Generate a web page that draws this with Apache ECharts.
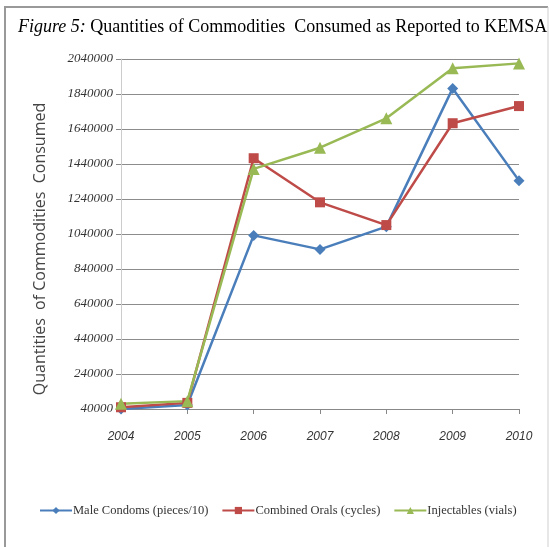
<!DOCTYPE html>
<html>
<head>
<meta charset="utf-8">
<script src="https://cdn.jsdelivr.net/npm/echarts@6/dist/echarts.min.js"></script>
<style>
  html, body { margin: 0; padding: 0; background: #ffffff; }
  #chart { width: 550px; height: 547px; }
</style>
</head>
<body>
<div id="chart"></div>
<script>
// Years on the horizontal axis
const years = ['2004', '2005', '2006', '2007', '2008', '2009', '2010'];

// Quantities consumed per commodity
const maleCondoms = [40000, 63000, 1032000, 952000, 1082000, 1872000, 1345000];
const combinedOrals = [50000, 75000, 1473000, 1221000, 1091000, 1673000, 1771000];
const injectables = [70000, 85000, 1412000, 1533000, 1701000, 1987000, 2015000];

// Value axis ticks
const yMin = 40000;
const yMax = 2040000;
const yStep = 200000;

const seriesNames = ['Male Condoms (pieces/10)', 'Combined Orals (cycles)', 'Injectables (vials)'];

const chart = echarts.init(document.getElementById('chart'), null, { renderer: 'canvas' });

const serif = '"Liberation Serif", "DejaVu Serif", serif';
const sans = '"Liberation Sans", "DejaVu Sans", sans-serif';

function lineSeries(name, data, color, symbol, size) {
  return {
    name: name,
    type: 'line',
    data: data,
    symbol: symbol,
    symbolSize: size,
    clip: false,
    lineStyle: { color: color, width: 2.5 },
    itemStyle: { color: color },
    emphasis: { disabled: true },
    animation: false
  };
}

chart.setOption({
  backgroundColor: '#ffffff',
  animation: false,
  title: {
    text: '{i|Figure 5:}{r| Quantities of Commodities  Consumed as Reported to KEMSA}',
    left: 13,
    top: 13,
    textStyle: {
      fontWeight: 'normal',
      rich: {
        i: { fontFamily: serif, fontStyle: 'italic', fontWeight: 'normal', fontSize: 18, color: '#000' },
        r: { fontFamily: serif, fontWeight: 'normal', fontSize: 18, color: '#000' }
      }
    }
  },
  legend: {
    bottom: 25,
    left: 34,
    itemGap: 13,
    itemWidth: 32,
    itemHeight: 9,
    textStyle: { fontFamily: serif, fontSize: 12.5, color: '#333', padding: [0, 0, 0, -4] },
    data: seriesNames
  },
  grid: {
    left: 121,
    right: 31,
    top: 59,
    bottom: 138,
    containLabel: false
  },
  xAxis: {
    type: 'category',
    data: years,
    boundaryGap: false,
    axisLine: { lineStyle: { color: '#888888', width: 1 } },
    axisTick: { show: true, inside: false, length: 5, lineStyle: { color: '#888888' } },
    axisLabel: {
      fontFamily: sans,
      fontStyle: 'italic',
      fontSize: 12,
      color: '#333',
      margin: 22
    },
    splitLine: { show: false }
  },
  yAxis: {
    type: 'value',
    min: yMin,
    max: yMax,
    interval: yStep,
    name: 'Quantities  of Commodities  Consumed',
    nameLocation: 'middle',
    nameGap: 73,
    nameTextStyle: {
      fontFamily: '"Open Sans", "DejaVu Sans", sans-serif',
      fontSize: 16,
      color: '#444',
      padding: [0, 0, 0, -30]
    },
    axisLine: { show: true, lineStyle: { color: '#cccccc', width: 1 } },
    axisTick: { show: true, inside: false, length: 5, lineStyle: { color: '#888888' } },
    axisLabel: {
      fontFamily: serif,
      fontStyle: 'italic',
      fontSize: 13,
      color: '#333',
      margin: 8,
      formatter: function (v) { return String(v); }
    },
    splitLine: { show: true, lineStyle: { color: '#8c8c8c', width: 1 } }
  },
  series: [
    lineSeries(seriesNames[0], maleCondoms, '#4a7ebb', 'diamond', 11),
    lineSeries(seriesNames[1], combinedOrals, '#be4b48', 'rect', 10),
    lineSeries(seriesNames[2], injectables, '#98b954', 'triangle', 12)
  ],
  graphic: [
    // Outer frame: thick left/top rule, thin right rule
    { type: 'line', shape: { x1: 5, y1: 7, x2: 5, y2: 547 }, style: { stroke: '#999999', lineWidth: 2 } },
    { type: 'line', shape: { x1: 4, y1: 7, x2: 548, y2: 7 }, style: { stroke: '#999999', lineWidth: 2 } },
    { type: 'line', shape: { x1: 548, y1: 7, x2: 548, y2: 547 }, style: { stroke: '#cfcfcf', lineWidth: 1 } }
  ]
});
</script>
</body>
</html>
